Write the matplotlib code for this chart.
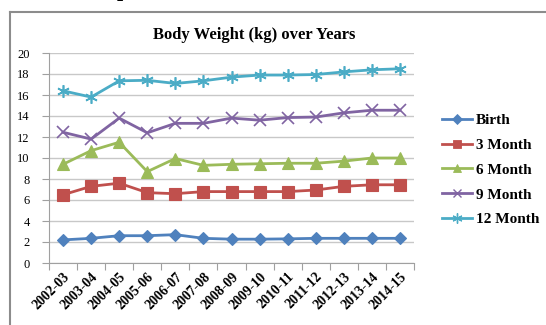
import matplotlib

matplotlib.use("Agg")
import matplotlib.pyplot as plt
from matplotlib.lines import Line2D

years = [
    "2002-03", "2003-04", "2004-05", "2005-06", "2006-07", "2007-08", "2008-09",
    "2009-10", "2010-11", "2011-12", "2012-13", "2013-14", "2014-15",
]
birth = [2.2, 2.35, 2.6, 2.6, 2.7, 2.35, 2.27, 2.27, 2.3, 2.35, 2.35, 2.35, 2.35]
month_3 = [6.5, 7.3, 7.6, 6.7, 6.6, 6.8, 6.8, 6.8, 6.8, 6.95, 7.3, 7.45, 7.45]
month_6 = [9.4, 10.7, 11.5, 8.7, 9.95, 9.3, 9.4, 9.45, 9.5, 9.5, 9.7, 10.0, 10.0]
month_9 = [12.45, 11.8, 13.8, 12.4, 13.3, 13.3, 13.8, 13.6, 13.85, 13.9, 14.3, 14.55, 14.55]
month_12 = [16.4, 15.8, 17.35, 17.4, 17.1, 17.35, 17.7, 17.9, 17.9, 17.95, 18.2, 18.4, 18.5]

series = [
    ("Birth", birth, "#4F81BD", "D", 6),
    ("3 Month", month_3, "#C0504D", "s", 8),
    ("6 Month", month_6, "#9BBB59", "^", 8),
    ("9 Month", month_9, "#8064A2", "x", 8),
    ("12 Month", month_12, "#4BACC6", (6, 2, 0), 9),
]

SERIF = ["Liberation Serif", "DejaVu Serif"]

fig = plt.figure(figsize=(5.46, 3.25), dpi=100)
ax = fig.add_axes([49 / 546, 1 - 263 / 325, (414 - 49) / 546, (263 - 53) / 325])

x = list(range(len(years)))
handles = []
for name, values, color, marker, size in series:
    thin = marker in ("x", (6, 2, 0))
    ax.plot(
        x, values, color=color, lw=2.0, marker=marker, markersize=size,
        markeredgecolor=color, markeredgewidth=1.2 if thin else 0.8,
        label=name, clip_on=False, zorder=3,
    )
    handles.append(
        Line2D([0], [0], color=color, lw=2.0, marker=marker, markersize=size * 0.8,
               markeredgecolor=color, markeredgewidth=1.0 if thin else 0.6)
    )

ax.set_xlim(-0.5, len(years) - 0.5)
ax.set_ylim(0, 20)
ax.set_yticks(range(0, 21, 2))
ax.set_xticks([i - 0.5 for i in range(len(years) + 1)], minor=False)
ax.set_xticklabels([])
ax.set_xticks(x, minor=True)
ax.set_xticklabels(years, minor=True, rotation=45, ha="right", rotation_mode="anchor",
                   fontsize=10, fontweight="bold", family=SERIF)
ax.tick_params(axis="x", which="minor", length=0, pad=5)
ax.tick_params(axis="x", which="major", length=5, color="#A0A0A0", direction="out")
ax.tick_params(axis="y", length=5, color="#A0A0A0", labelsize=9, pad=9)
for lbl in ax.get_yticklabels():
    lbl.set_family(SERIF)

ax.grid(axis="y", color="#C8C8C8", lw=1.0)
ax.set_axisbelow(True)
for side in ("top", "right"):
    ax.spines[side].set_visible(False)
ax.spines["left"].set_color("#A0A0A0")
ax.spines["bottom"].set_color("#A0A0A0")

fig.text(254 / 546, 1 - 35 / 325, "Body Weight (kg) over Years", ha="center", va="center",
         fontsize=12, fontweight="bold", family=SERIF)

fig.legend(handles, [s[0] for s in series], loc="upper left",
           bbox_to_anchor=(428 / 546, 1 - 100 / 325), frameon=False,
           prop={"family": SERIF, "weight": "bold", "size": 11},
           handlelength=2.0, labelspacing=0.72, handletextpad=0.25)

# frame of the chart area and clipped heading above it
fig.add_artist(Line2D([10 / 546, 10 / 546], [0, 1 - 12 / 325], color="#8C8C8C", lw=1.5))
fig.add_artist(Line2D([10 / 546, 1], [1 - 12 / 325, 1 - 12 / 325], color="#8C8C8C", lw=1.5))
fig.text(117 / 546, 1 + 4 / 325, "p", fontsize=16, fontweight="bold", family=SERIF,
         ha="left", va="baseline")

fig.savefig("out.png", dpi=100)
